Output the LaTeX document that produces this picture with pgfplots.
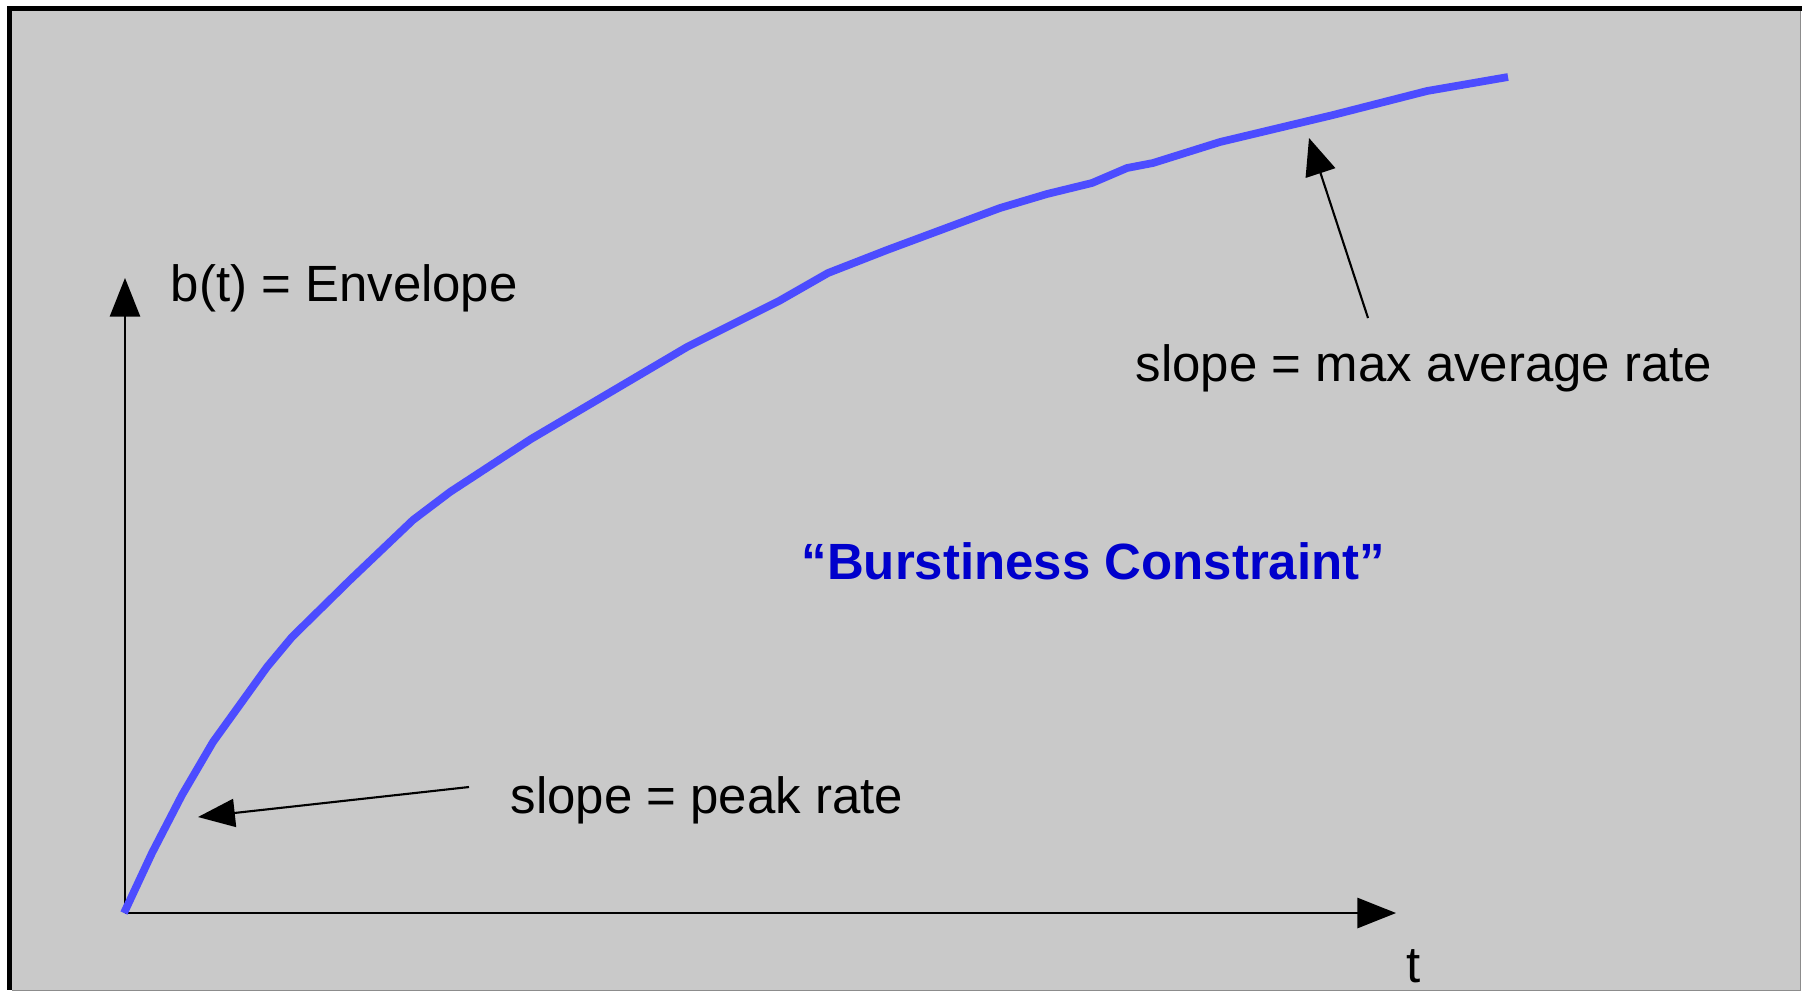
\documentclass[border=0pt]{standalone}
\usepackage{fontspec}
\setmainfont{Liberation Sans}
\usepackage{pgfplots}
\pgfplotsset{compat=1.18}
\usetikzlibrary{arrows.meta}
\definecolor{bg}{RGB}{201,201,201}
\definecolor{curve}{RGB}{76,76,255}
\definecolor{txtblue}{RGB}{0,0,204}
\definecolor{edge}{RGB}{140,140,140}
\begin{document}
\begin{tikzpicture}
\begin{axis}[
  width=18.02cm, height=9.92cm, scale only axis,
  xmin=0, xmax=1802, ymin=0, ymax=992, y dir=reverse,
  hide axis, clip=false,
]
% page and panel
\fill[white] (axis cs:0,0) rectangle (axis cs:1802,992);
\fill[bg] (axis cs:7,6) rectangle (axis cs:1800,990);
\fill[black] (axis cs:7,6) rectangle (axis cs:1802,11);
\fill[black] (axis cs:7,6) rectangle (axis cs:12,990);
\draw[edge, line width=0.3pt] (axis cs:1800.5,11) -- (axis cs:1800.5,990.5) -- (axis cs:12,990.5);
% axes
\draw[line width=0.6pt, -{Triangle[length=11pt,width=8.6pt]}] (axis cs:125,913) -- (axis cs:125,278);
\draw[line width=0.6pt, -{Triangle[length=11pt,width=8.6pt]}] (axis cs:125,913) -- (axis cs:1396,913);
% envelope curve
\addplot[color=curve, line width=2.2pt, line join=round] coordinates {
(124,913) (152,853) (182,795) (213,742) (267,667) (292,637) (350,580)
(413,520) (450,492) (531,439) (687,347) (779,301) (828,273) (887,250)
(1000,208) (1047,194) (1092,183) (1127,168) (1153,163) (1220,142)
(1333,115) (1380,103) (1427,91) (1508,77)
};
% annotation arrows
\draw[line width=0.6pt, -{Triangle[length=10.5pt,width=8pt]}] (axis cs:469,787) -- (axis cs:198,817);
\draw[line width=0.6pt, -{Triangle[length=10.5pt,width=8.8pt]}] (axis cs:1368,318) -- (axis cs:1309,138);
% texts
\node[anchor=base west, inner sep=0pt, font=\fontsize{14.5}{17}\selectfont] at (axis cs:170,301) {b(t) = Envelope};
\node[anchor=base west, inner sep=0pt, font=\fontsize{14.5}{17}\selectfont] at (axis cs:1135,381) {slope = max average rate};
\node[anchor=base west, inner sep=0pt, font=\fontsize{14.5}{17}\selectfont] at (axis cs:510,813) {slope = peak rate};
\node[anchor=base west, inner sep=0pt, font=\fontsize{14.5}{17}\selectfont] at (axis cs:1406,982) {t};
\node[anchor=base west, inner sep=0pt, text=txtblue, font=\fontsize{14.5}{17}\selectfont\bfseries] at (axis cs:801,579) {“Burstiness Constraint”};
\end{axis}
\end{tikzpicture}
\end{document}
